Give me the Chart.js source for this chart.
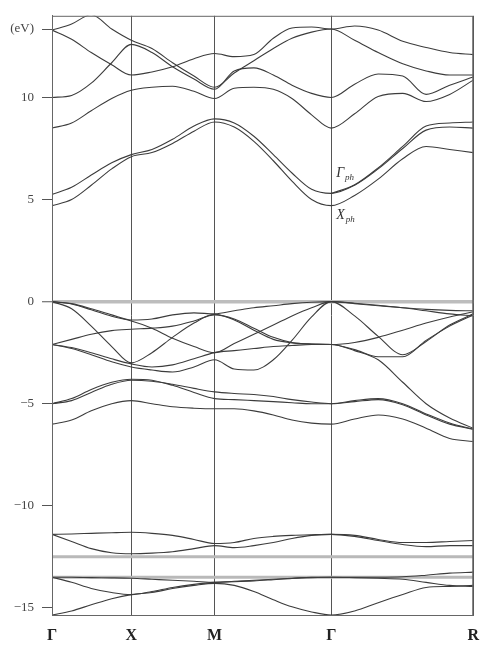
<!DOCTYPE html>
<html>
<head>
<meta charset="utf-8">
<script src="https://cdn.jsdelivr.net/npm/chart.js@4.4.1/dist/chart.umd.min.js"></script>
<style>
  html, body { margin: 0; padding: 0; background: #fff; }
</style>
</head>
<body>
<canvas id="bands" width="490" height="645"></canvas>
<script>
// high-symmetry points along the path
const K_TICKS = [0, 0.485, 0.994, 1.707, 2.575];
const K_LABELS = ['Γ', 'X', 'M', 'Γ', 'R'];
const E_TICKS = [-15, -10, -5, 0, 5, 10, 13.35];

// sample points along Γ-X-M-Γ-R
const K = [0, 0.120, 0.240, 0.365, 0.485,
  0.611, 0.737, 0.868, 0.994,
  1.114, 1.234, 1.353, 1.467, 1.587, 1.707,
  1.850, 1.994, 2.144, 2.287, 2.431, 2.575];

// conduction bands (eV)
const CB1 = [4.7, 5.0, 5.7, 6.5, 7.1, 7.3, 7.75, 8.35, 8.8, 8.55, 7.85, 6.9, 5.9, 5.0, 4.7, 5.2, 6.0, 7.0, 7.6, 7.45, 7.3];
const CB2 = [5.25, 5.6, 6.2, 6.8, 7.2, 7.45, 7.95, 8.6, 8.95, 8.75, 8.1, 7.2, 6.3, 5.5, 5.3, 5.7, 6.5, 7.5, 8.4, 8.55, 8.5];
const CB2B = [null, null, null, null, null, null, null, null, null, null, null, null, null, null, 5.3, 5.72, 6.55, 7.6, 8.6, 8.75, 8.8];
const CB3 = [8.5, 8.75, 9.35, 9.95, 10.35, 10.5, 10.55, 10.3, 9.95, 10.45, 10.5, 10.4, 9.95, 9.15, 8.5, 9.2, 10.05, 10.2, 9.8, 10.15, 10.85];
const CB4 = [10.0, 10.1, 10.7, 11.7, 12.6, 12.2, 11.5, 10.9, 10.4, 11.3, 11.45, 11.1, 10.6, 10.2, 10.0, 10.65, 11.15, 11.05, 10.15, 10.6, 11.0];
const CB5 = [13.3, 12.85, 12.2, 11.6, 11.1, 11.25, 11.5, 11.9, 12.15, 12.0, 12.1, 12.9, 13.4, 13.45, 13.35, 13.5, 13.3, 12.75, 12.45, 12.2, 12.1];
const CB6 = [13.3, 13.6, 14.05, 13.35, 12.8, 12.4, 11.7, 11.05, 10.5, 11.2, 11.8, 12.4, 12.9, 13.2, 13.35, 12.8, 12.2, 11.65, 11.3, 11.1, 11.1];

// valence bands (eV)
const VB1 = [0, -0.1, -0.35, -0.65, -0.9, -0.85, -0.65, -0.55, -0.6, -0.45, -0.3, -0.2, -0.1, -0.03, 0, -0.1, -0.2, -0.3, -0.38, -0.43, -0.45];
const VB2 = [-2.1, -1.85, -1.6, -1.42, -1.35, -1.3, -1.2, -0.95, -0.65, -0.85, -1.3, -1.75, -2.0, -2.08, -2.1, -2.0, -1.75, -1.4, -1.05, -0.75, -0.5];
const VB3 = [0, -0.35, -1.2, -2.2, -3.0, -2.5, -1.75, -1.05, -0.62, -0.9, -1.4, -1.85, -2.02, -2.08, -2.1, -2.35, -2.7, -2.7, -1.9, -1.2, -0.65];
const VB4 = [-2.1, -2.3, -2.6, -2.95, -3.2, -3.35, -3.45, -3.2, -2.85, -3.3, -3.35, -2.85, -1.9, -0.75, 0, -0.7, -1.7, -2.6, -1.95, -1.15, -0.6];
const VB5 = [-2.1, -2.25, -2.5, -2.8, -3.05, -3.2, -3.1, -2.8, -2.5, -2.4, -2.3, -2.2, -2.15, -2.1, -2.1, -2.4, -2.85, -3.95, -5.0, -5.7, -6.2];
const VB6 = [-5.0, -4.85, -4.45, -4.05, -3.85, -3.9, -4.05, -4.25, -4.42, -4.5, -4.55, -4.65, -4.8, -4.92, -5.0, -4.85, -4.75, -5.0, -5.5, -5.95, -6.25];
const VB7 = [-5.0, -4.75, -4.3, -3.95, -3.8, -3.85, -4.1, -4.45, -4.75, -4.8, -4.85, -4.9, -4.95, -5.0, -5.0, -4.9, -4.8, -5.05, -5.55, -6.0, -6.25];
const VB8 = [-6.0, -5.8, -5.35, -5.0, -4.85, -5.0, -5.15, -5.22, -5.25, -5.25, -5.35, -5.55, -5.8, -5.95, -6.0, -5.75, -5.55, -5.75, -6.2, -6.7, -6.85];
const VB9 = [0, -0.12, -0.4, -0.72, -0.95, -1.3, -1.8, -2.2, -2.5, -2.05, -1.6, -1.15, -0.7, -0.3, 0, -0.08, -0.18, -0.3, -0.45, -0.6, -0.7];

// semicore bands (eV)
const SC1 = [-11.4, -11.38, -11.35, -11.32, -11.3, -11.35, -11.45, -11.65, -11.85, -11.8, -11.6, -11.5, -11.45, -11.42, -11.4, -11.45, -11.65, -11.8, -11.8, -11.75, -11.7];
const SC2 = [-11.4, -11.75, -12.1, -12.3, -12.35, -12.32, -12.25, -12.1, -11.95, -12.05, -11.95, -11.8, -11.6, -11.45, -11.4, -11.5, -11.7, -11.9, -12.0, -11.95, -11.95];
const SC5 = [-13.5, -13.5, -13.52, -13.53, -13.55, -13.6, -13.65, -13.7, -13.75, -13.7, -13.65, -13.6, -13.55, -13.5, -13.5, -13.5, -13.5, -13.48, -13.4, -13.3, -13.25];
const SC6 = [-13.5, -13.75, -14.05, -14.25, -14.35, -14.2, -14.0, -13.85, -13.75, -13.72, -13.68, -13.62, -13.56, -13.52, -13.5, -13.52, -13.55, -13.6, -13.75, -13.9, -13.95];
const SC7 = [-15.35, -15.15, -14.85, -14.55, -14.35, -14.25, -14.05, -13.9, -13.8, -13.9, -14.2, -14.6, -14.95, -15.2, -15.35, -15.15, -14.75, -14.35, -14.0, -13.95, -13.9];

// flat (grey) levels across the whole path
const FLAT_K = [0, 2.575];
const FLAT_A = [-12.5, -12.5];
const FLAT_B = [-13.5, -13.5];

// state labels near the second Γ
const NOTE_TEXT = ['Γ', 'X'];
const NOTE_SUB = ['ph', 'ph'];
const NOTE_K = [1.737, 1.737];
const NOTE_E = [6.3, 4.25];

const BANDS = [CB1, CB2, CB2B, CB3, CB4, CB5, CB6,
  VB1, VB2, VB3, VB4, VB5, VB6, VB7, VB8, VB9,
  SC1, SC2, SC5, SC6, SC7];

const SERIF = '"Liberation Serif", "DejaVu Serif", serif';

const datasets = BANDS.map((b) => ({
  data: b.map((e, i) => ({ x: K[i], y: e })),
  borderColor: '#3c3c3c',
  borderWidth: 1.1,
  pointRadius: 0,
  cubicInterpolationMode: 'monotone',
  spanGaps: false,
  order: 0,
}));

[FLAT_A, FLAT_B].forEach((b) => {
  datasets.push({
    data: b.map((e, i) => ({ x: FLAT_K[i], y: e })),
    borderColor: '#b9b9b9',
    borderWidth: 3,
    pointRadius: 0,
    order: 1,
  });
});

const framePlugin = {
  id: 'frame',
  afterDatasetsDraw(chart) {
    const { ctx, chartArea: a, scales } = chart;
    ctx.save();
    ctx.strokeStyle = '#666';
    ctx.lineWidth = 1;
    ctx.strokeRect(a.left + 0.5, a.top + 0.5, a.right - a.left - 1, a.bottom - a.top);
    // Γph / Xph labels
    ctx.fillStyle = '#333';
    ctx.textBaseline = 'middle';
    NOTE_TEXT.forEach((t, i) => {
      const x = scales.x.getPixelForValue(NOTE_K[i]);
      const y = scales.y.getPixelForValue(NOTE_E[i]);
      ctx.font = 'italic 14px ' + SERIF;
      ctx.fillText(t, x, y);
      const w = ctx.measureText(t).width;
      ctx.font = 'italic 9px ' + SERIF;
      ctx.fillText(NOTE_SUB[i], x + w + 1, y + 5);
    });
    ctx.restore();
  },
};

new Chart(document.getElementById('bands'), {
  type: 'line',
  data: { datasets },
  options: {
    responsive: false,
    animation: false,
    events: [],
    layout: { padding: { top: 11, right: 8, left: 0, bottom: 0 } },
    plugins: { legend: { display: false }, tooltip: { enabled: false } },
    scales: {
      x: {
        type: 'linear',
        min: 0,
        max: 2.575,
        afterBuildTicks: (s) => { s.ticks = K_TICKS.map((v) => ({ value: v })); },
        afterFit: (s) => { s.height = 30; },
        ticks: {
          autoSkip: false,
          maxRotation: 0,
          padding: 11,
          color: '#222',
          font: { family: SERIF, size: 16, weight: 'bold' },
          callback: (v, i) => K_LABELS[i],
        },
        grid: { color: '#555', lineWidth: 1, drawTicks: false },
        border: { color: '#666', width: 1 },
      },
      y: {
        min: -15.35,
        max: 14.0,
        afterBuildTicks: (s) => { s.ticks = E_TICKS.map((v) => ({ value: v })); },
        afterFit: (s) => { s.width = 52; },
        ticks: {
          autoSkip: false,
          padding: 8,
          color: '#444',
          font: { family: SERIF, size: 13 },
          callback: (v) => (v === 13.35 ? '(eV)' : (v < 0 ? '−' + Math.abs(v) : String(v))),
        },
        grid: {
          color: (c) => (c.tick && c.tick.value === 0 ? '#bdbdbd' : 'rgba(0,0,0,0)'),
          lineWidth: (c) => (c.tick && c.tick.value === 0 ? 3.5 : 1),
          tickColor: '#555',
          tickWidth: 1,
          tickLength: 10,
        },
        border: { color: '#666', width: 1 },
      },
    },
  },
  plugins: [framePlugin],
});
</script>
</body>
</html>
